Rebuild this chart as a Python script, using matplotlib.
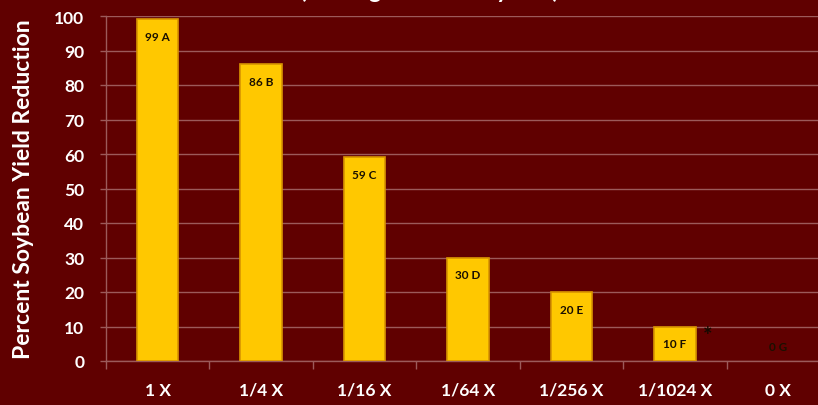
import matplotlib.pyplot as plt
from matplotlib.ticker import FixedLocator

# rates of the herbicide and the resulting yield loss
rates = ["1 X", "1/4 X", "1/16 X", "1/64 X", "1/256 X", "1/1024 X", "0 X"]
reduction = [99, 86, 59, 30, 20, 10, 0]
letters = ["A", "B", "C", "D", "E", "F", "G"]
flagged = ["1/1024 X"]

bg = "#600000"
grid_col = "#9c5a5a"
bar_face = "#FFC800"
bar_edge = "#D89400"

plt.rcParams["font.family"] = ["Lato", "DejaVu Sans"]

fig = plt.figure(figsize=(8.18, 4.06), dpi=100, facecolor=bg)
ax = fig.add_axes([106 / 818, 44 / 406, 724 / 818, 345 / 406])
ax.set_facecolor(bg)

x = list(range(len(rates)))
width = 0.4
edge_w = [1.2 if v > 0 else 0 for v in reduction]
ax.bar(x, reduction, width, color=bar_face, edgecolor=bar_edge, linewidth=edge_w, zorder=3)

for xi, v, let, r in zip(x, reduction, letters, rates):
    ax.text(xi, max(v - 5, 4.3), f"{v} {let}", ha="center", va="center",
            fontsize=8.5, fontweight="bold", color="#1a1000", zorder=4)
    if r in flagged:
        # significance mark just right of the bar top
        ax.text(xi + width / 2 + 0.12, v - 2.5, "*", ha="center", va="center",
                fontsize=16, fontweight="bold", color="#140a00", zorder=4)

ax.set_xlim(-0.5, len(rates) - 0.5)
ax.set_ylim(0, 100)
ax.set_yticks(range(0, 101, 10))
ax.set_yticklabels([str(t) for t in range(0, 101, 10)])
ax.yaxis.grid(True, color=grid_col, linewidth=1.0, zorder=0)

# category labels centred, tick marks on the category boundaries
ax.set_xticks(x)
ax.set_xticklabels(rates)
ax.xaxis.set_minor_locator(FixedLocator([i - 0.5 for i in range(len(rates) + 1)]))
ax.tick_params(axis="x", which="major", length=0, pad=15, labelsize=12.5, labelcolor="white")
ax.tick_params(axis="x", which="minor", length=6, color=grid_col, width=1)
ax.tick_params(axis="y", length=4.5, color=grid_col, width=1, pad=11, labelsize=12.5, labelcolor="white")
for lab in ax.get_xticklabels() + ax.get_yticklabels():
    lab.set_fontweight("bold")

for side in ["top", "right"]:
    ax.spines[side].set_visible(False)
for side in ["left", "bottom"]:
    ax.spines[side].set_color(grid_col)
    ax.spines[side].set_linewidth(1.0)

ax.set_ylabel("Percent Soybean Yield Reduction", color="white", fontsize=16.5,
              fontweight="bold")
ax.yaxis.set_label_coords(-0.1, 0.5)

fig.text(0.525, 1.004, "(Average of 3 Site-years)", ha="center", va="baseline",
         color="white", fontsize=17, fontweight="bold")

fig.savefig("out.png", dpi=100, facecolor=bg)
